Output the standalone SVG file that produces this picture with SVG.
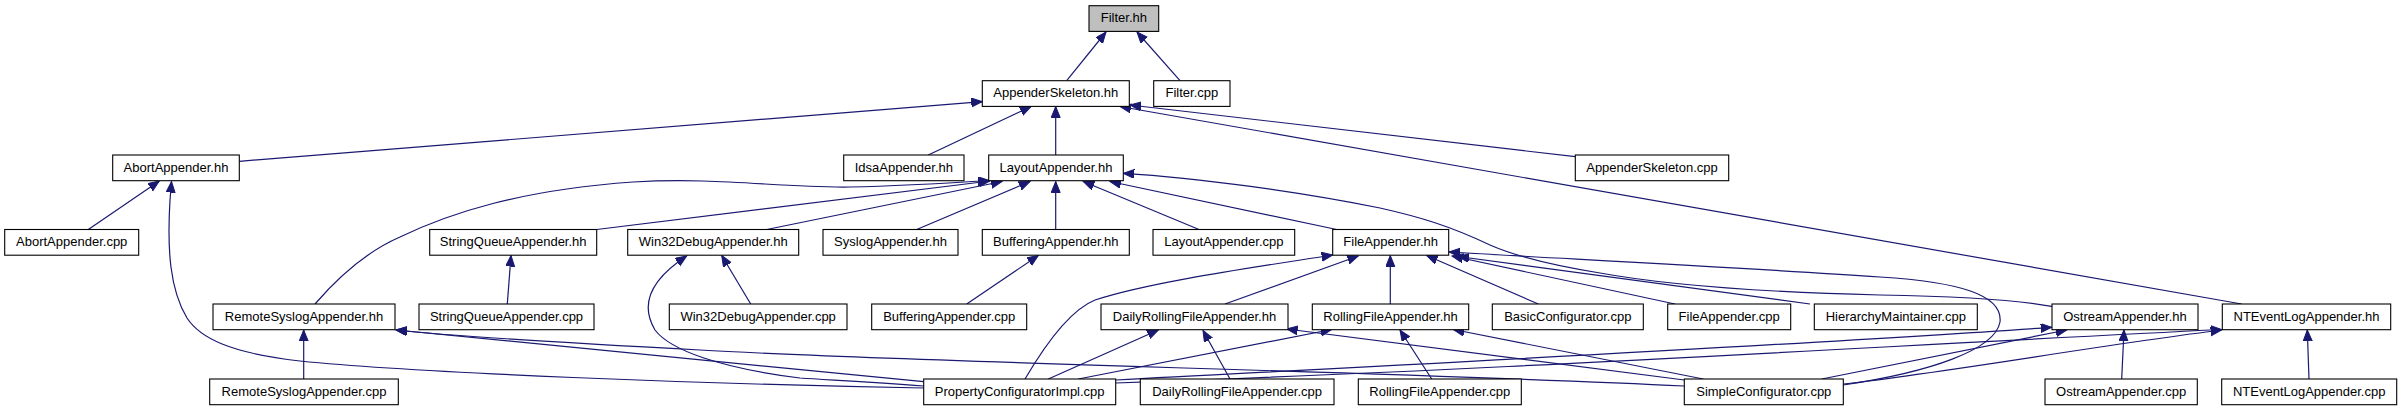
<svg xmlns="http://www.w3.org/2000/svg" width="2402" height="411" viewBox="0 0 2402 411">
<defs>
<marker id="ah" markerUnits="userSpaceOnUse" markerWidth="12" markerHeight="10" refX="11" refY="4.5" orient="auto">
<path d="M0,0 L11,4.5 L0,9 z" fill="#191970" stroke="#191970" stroke-width="1"/>
</marker>
</defs>
<style>
.n rect{fill:#ffffff;stroke:#000000;stroke-width:1.1}
.n.root rect{fill:#bfbfbf}
.n text{font-family:"Liberation Sans",Arial,Helvetica,sans-serif;font-size:13px;fill:#000000;text-anchor:middle}
#edges path{fill:none;stroke:#191970;stroke-width:1.2;marker-end:url(#ah)}
</style>
<rect x="0" y="0" width="2402" height="411" fill="#ffffff"/>
<g id="edges">
<path d="M1066.7,80.7 L1106,32"/>
<path d="M1180,80.7 L1137,32"/>
<path d="M239.3,161.3 L982.3,101.7"/>
<path d="M928.3,155 L1031,106.5"/>
<path d="M1055.7,155 L1055.7,106.5"/>
<path d="M1575.3,156.7 L1130,105"/>
<path d="M2241.7,304 L1120,106.5"/>
<path d="M88.3,229.5 L159.3,181"/>
<path d="M923.7,388 C700,384 420,373 300,361 C230,353 200,338 187,318 C170,290 167,250 170,200 L171.5,181.5"/>
<path d="M315,304 C340,275 370,250 400,237 C450,213 520,190 633,182 C720,177 780,188 850,187 C900,186 950,183 989,180.5"/>
<path d="M596.7,229.5 L990,181"/>
<path d="M766.7,229.5 L1002,181.5"/>
<path d="M916.7,229.5 L1030,181.5"/>
<path d="M1055.7,229.5 L1055.7,181.5"/>
<path d="M1199,229.5 L1083.3,181.5"/>
<path d="M1336.7,229.5 L1110,181.5"/>
<path d="M2053.3,306.7 C2010,298 1940,296 1880,295 C1760,292 1660,284 1600,273 C1550,265 1515,256 1490,245 C1450,226 1420,217 1380,208 C1300,192 1200,178 1123.3,173.3"/>
<path d="M507.3,304 L511,255.5"/>
<path d="M750.7,304 L721.7,255.5"/>
<path d="M923.7,386 C870,382 830,380 800,378 C720,368 670,350 655,330 C640,305 650,280 686.7,256"/>
<path d="M966.7,304 L1038.3,255.5"/>
<path d="M303.7,379 L303.7,330"/>
<path d="M923.7,381.7 L396,330"/>
<path d="M1684.3,386 C1400,372 900,362 700,350 C550,342 450,336 396,330"/>
<path d="M1025,379 C1045,345 1070,310 1095,300 C1150,282 1250,268 1332.7,255"/>
<path d="M1225,304 L1358.3,256"/>
<path d="M1390.3,304 L1390.3,255.5"/>
<path d="M1538.3,304 L1426.7,255.5"/>
<path d="M1675,304 L1452,256"/>
<path d="M1810,304 L1458,256.5"/>
<path d="M1843.3,385 C1930,372 1995,350 2000,322 C2003,295 1960,282 1880,277 C1750,268 1550,258 1449,252"/>
<path d="M1048.3,379 L1158.3,330"/>
<path d="M1230,379 L1203,330.5"/>
<path d="M1684.3,380 L1286.7,329"/>
<path d="M1078.3,379 L1331.7,329.5"/>
<path d="M1431.7,379 L1400,330"/>
<path d="M1703.3,379 L1453.3,329.5"/>
<path d="M1115.7,380 C1400,365 1800,345 2051.7,327.3"/>
<path d="M1821.7,379 L2066.7,330"/>
<path d="M2121.7,379 L2124,330"/>
<path d="M1115.7,383 C1500,370 1900,345 2221.7,329.5"/>
<path d="M1843.3,384 C1950,372 2100,345 2221.7,330"/>
<path d="M2309,379 L2307.3,330"/>
</g>
<g id="n_filter_hh" class="n root"><rect x="1089" y="5.7" width="69.7" height="25.7"/><text x="1123.85" y="22.4">Filter.hh</text></g>
<g id="n_appenderskeleton_hh" class="n"><rect x="982.3" y="80.7" width="147" height="25.7"/><text x="1055.8" y="97.4">AppenderSkeleton.hh</text></g>
<g id="n_filter_cpp" class="n"><rect x="1153.7" y="80.7" width="76.3" height="25.7"/><text x="1191.85" y="97.4">Filter.cpp</text></g>
<g id="n_abortappender_hh" class="n"><rect x="112.7" y="155" width="126.6" height="25.7"/><text x="176" y="171.7">AbortAppender.hh</text></g>
<g id="n_idsaappender_hh" class="n"><rect x="843.7" y="155" width="120.3" height="25.7"/><text x="903.85" y="171.7">IdsaAppender.hh</text></g>
<g id="n_layoutappender_hh" class="n"><rect x="988.7" y="155" width="134.6" height="25.7"/><text x="1056" y="171.7">LayoutAppender.hh</text></g>
<g id="n_appenderskeleton_cpp" class="n"><rect x="1575.3" y="155" width="153.4" height="25.7"/><text x="1652" y="171.7">AppenderSkeleton.cpp</text></g>
<g id="n_abortappender_cpp" class="n"><rect x="4.7" y="229.5" width="134" height="25.7"/><text x="71.7" y="246.2">AbortAppender.cpp</text></g>
<g id="n_stringqueueappender_hh" class="n"><rect x="429.7" y="229.5" width="167" height="25.7"/><text x="513.2" y="246.2">StringQueueAppender.hh</text></g>
<g id="n_win32debugappender_hh" class="n"><rect x="627.7" y="229.5" width="171" height="25.7"/><text x="713.2" y="246.2">Win32DebugAppender.hh</text></g>
<g id="n_syslogappender_hh" class="n"><rect x="823" y="229.5" width="135" height="25.7"/><text x="890.5" y="246.2">SyslogAppender.hh</text></g>
<g id="n_bufferingappender_hh" class="n"><rect x="982.3" y="229.5" width="147" height="25.7"/><text x="1055.8" y="246.2">BufferingAppender.hh</text></g>
<g id="n_layoutappender_cpp" class="n"><rect x="1153" y="229.5" width="141.7" height="25.7"/><text x="1223.85" y="246.2">LayoutAppender.cpp</text></g>
<g id="n_fileappender_hh" class="n"><rect x="1332.7" y="229.5" width="116" height="25.7"/><text x="1390.7" y="246.2">FileAppender.hh</text></g>
<g id="n_remotesyslogappender_hh" class="n"><rect x="213" y="304" width="182" height="25.7"/><text x="304" y="320.7">RemoteSyslogAppender.hh</text></g>
<g id="n_stringqueueappender_cpp" class="n"><rect x="419" y="304" width="175" height="25.7"/><text x="506.5" y="320.7">StringQueueAppender.cpp</text></g>
<g id="n_win32debugappender_cpp" class="n"><rect x="669.3" y="304" width="177.7" height="25.7"/><text x="758.15" y="320.7">Win32DebugAppender.cpp</text></g>
<g id="n_bufferingappender_cpp" class="n"><rect x="871.7" y="304" width="155" height="25.7"/><text x="949.2" y="320.7">BufferingAppender.cpp</text></g>
<g id="n_dailyrollingfileappender_hh" class="n"><rect x="1101" y="304" width="187" height="25.7"/><text x="1194.5" y="320.7">DailyRollingFileAppender.hh</text></g>
<g id="n_rollingfileappender_hh" class="n"><rect x="1312.3" y="304" width="156.4" height="25.7"/><text x="1390.5" y="320.7">RollingFileAppender.hh</text></g>
<g id="n_basicconfigurator_cpp" class="n"><rect x="1492.3" y="304" width="151" height="25.7"/><text x="1567.8" y="320.7">BasicConfigurator.cpp</text></g>
<g id="n_fileappender_cpp" class="n"><rect x="1667.7" y="304" width="123" height="25.7"/><text x="1729.2" y="320.7">FileAppender.cpp</text></g>
<g id="n_hierarchymaintainer_cpp" class="n"><rect x="1814.3" y="304" width="163" height="25.7"/><text x="1895.8" y="320.7">HierarchyMaintainer.cpp</text></g>
<g id="n_ostreamappender_hh" class="n"><rect x="2052" y="304" width="146" height="25.7"/><text x="2125" y="320.7">OstreamAppender.hh</text></g>
<g id="n_nteventlogappender_hh" class="n"><rect x="2222.3" y="304" width="168.4" height="25.7"/><text x="2306.5" y="320.7">NTEventLogAppender.hh</text></g>
<g id="n_remotesyslogappender_cpp" class="n"><rect x="209.7" y="379" width="188.6" height="25.7"/><text x="304" y="395.7">RemoteSyslogAppender.cpp</text></g>
<g id="n_propertyconfiguratorimpl_cpp" class="n"><rect x="923.7" y="379" width="192" height="25.7"/><text x="1019.7" y="395.7">PropertyConfiguratorImpl.cpp</text></g>
<g id="n_dailyrollingfileappender_cpp" class="n"><rect x="1140.3" y="379" width="193.7" height="25.7"/><text x="1237.15" y="395.7">DailyRollingFileAppender.cpp</text></g>
<g id="n_rollingfileappender_cpp" class="n"><rect x="1358.3" y="379" width="163" height="25.7"/><text x="1439.8" y="395.7">RollingFileAppender.cpp</text></g>
<g id="n_simpleconfigurator_cpp" class="n"><rect x="1684.3" y="379" width="159" height="25.7"/><text x="1763.8" y="395.7">SimpleConfigurator.cpp</text></g>
<g id="n_ostreamappender_cpp" class="n"><rect x="2045" y="379" width="152.3" height="25.7"/><text x="2121.15" y="395.7">OstreamAppender.cpp</text></g>
<g id="n_nteventlogappender_cpp" class="n"><rect x="2221.7" y="379" width="175" height="25.7"/><text x="2309.2" y="395.7">NTEventLogAppender.cpp</text></g>
</svg>
